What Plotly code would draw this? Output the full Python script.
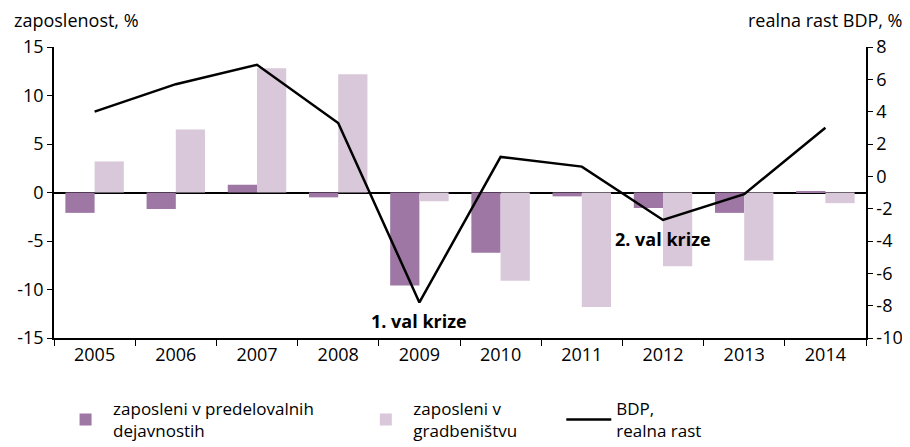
import plotly.graph_objects as go

# Data
years = ["2005", "2006", "2007", "2008", "2009", "2010", "2011", "2012", "2013", "2014"]
manufacturing = [-2.1, -1.7, 0.8, -0.5, -9.6, -6.2, -0.4, -1.6, -2.1, 0.1]
construction = [3.2, 6.5, 12.8, 12.2, -0.9, -9.1, -11.8, -7.6, -7.0, -1.1]
gdp_growth = [4.0, 5.7, 6.9, 3.3, -7.8, 1.2, 0.6, -2.7, -1.1, 3.0]

left_ticks = [15, 10, 5, 0, -5, -10, -15]
right_ticks = [8, 6, 4, 2, 0, -2, -4, -6, -8, -10]

FONT = "Open Sans"
fsize = 18

fig = go.Figure()

fig.add_trace(go.Bar(x=years, y=manufacturing, name="zaposleni v predelovalnih<br>dejavnostih",
                     marker=dict(color="#9e77a5", line_width=0), legend="legend"))
fig.add_trace(go.Bar(x=years, y=construction, name="zaposleni v<br>gradbeništvu",
                     marker=dict(color="#d8c8da", line_width=0), legend="legend2"))
fig.add_trace(go.Scatter(x=years, y=gdp_growth, name="BDP,<br>realna rast", yaxis="y2",
                         mode="lines", line=dict(color="black", width=2.5), legend="legend3"))


def legend_at(x):
    return dict(xref="container", yref="container", x=x, y=0.128,
                xanchor="left", yanchor="top", font=dict(size=17),
                itemwidth=45, bgcolor="rgba(0,0,0,0)")


# page body adds an 8px offset, so the figure is 8px smaller than the window
fig.update_layout(
    width=902, height=439,
    margin=dict(l=46, r=44, t=39, b=109, autoexpand=False),
    plot_bgcolor="white", paper_bgcolor="white",
    font=dict(family=FONT, size=fsize, color="black"),
    barmode="group", bargap=0.28, bargroupgap=0,
    showlegend=True,
    legend=legend_at(0.0555),
    legend2=legend_at(0.3884),
    legend3=legend_at(0.6134),
    xaxis=dict(type="category", showline=True, linecolor="black", linewidth=1.5,
               ticks="outside", tickson="boundaries", ticklen=6, tickcolor="black",
               showgrid=False, zeroline=False, range=[-0.5, 9.5], automargin=False),
    yaxis=dict(range=[-15, 15], tickvals=left_ticks, ticktext=[str(v) for v in left_ticks],
               showline=True, linecolor="black", linewidth=1.5, ticks="outside",
               ticklen=5, tickcolor="black", showgrid=False, automargin=False,
               zeroline=True, zerolinecolor="black", zerolinewidth=1.5),
    yaxis2=dict(range=[-10, 8], tickvals=right_ticks, ticktext=[str(v) for v in right_ticks],
                overlaying="y", side="right", showline=True, linecolor="black",
                linewidth=1.5, ticks="outside", ticklen=5, tickcolor="black",
                showgrid=False, zeroline=False, automargin=False),
)

fig.add_annotation(text="zaposlenost, %", xref="paper", yref="paper", x=-0.052, y=1.093,
                   xanchor="left", yanchor="middle", showarrow=False)
fig.add_annotation(text="realna rast BDP, %", xref="paper", yref="paper", x=1.048, y=1.093,
                   xanchor="right", yanchor="middle", showarrow=False)
# crisis labels, placed under the 2009 and 2012 categories
fig.add_annotation(text="<b>1. val krize</b>", x=4, y=-13.2, xref="x", yref="y",
                   showarrow=False)
fig.add_annotation(text="<b>2. val krize</b>", x=7, y=-4.8, xref="x", yref="y",
                   showarrow=False)

fig.write_html("out.html")
